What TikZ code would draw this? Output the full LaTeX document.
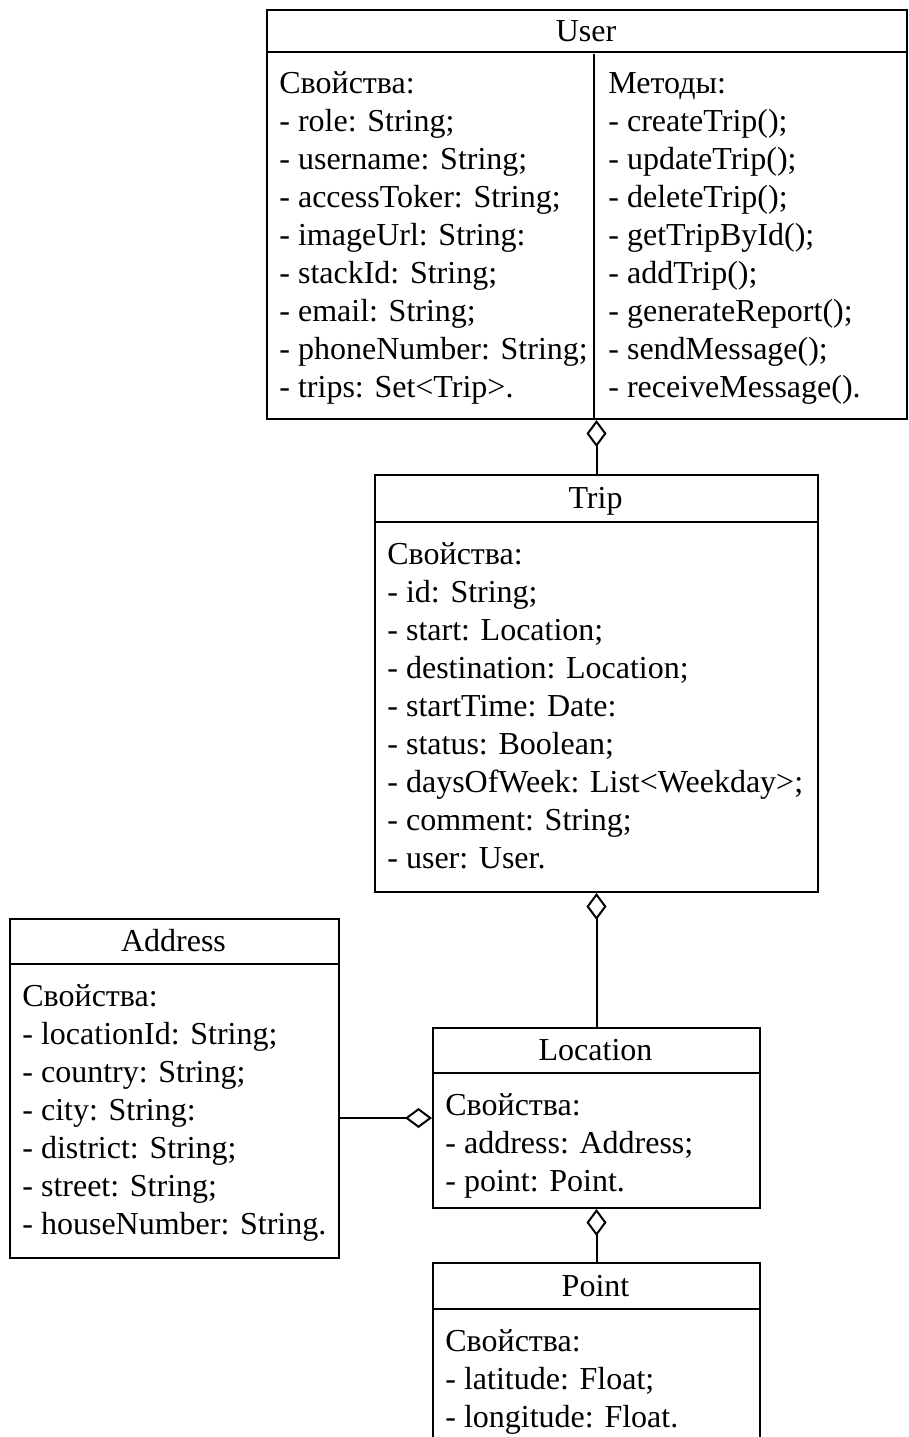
\documentclass[tikz,border=0pt]{standalone}
\usepackage{fontspec}
\setmainfont{Liberation Serif}
\usetikzlibrary{arrows.meta}
\begin{document}
\begin{tikzpicture}[x=0.5pt,y=-0.5pt,
  classbox/.style={draw, line width=1pt, rectangle, inner sep=0pt, anchor=north west},
  titletext/.style={anchor=base, inner sep=0pt, font=\fontsize{16}{19}\selectfont},
  listtext/.style={anchor=north west, inner sep=0pt, align=left, font=\fontsize{16}{19}\selectfont},
  rule/.style={line width=1pt},
  divider/.style={line width=1.2pt},
  agg/.style={line width=1pt, -{Diamond[open, length=13.5pt, width=10pt, line width=1pt]}}
]
\useasboundingbox (0,0) rectangle (909,1437);
\clip (0,0) rectangle (909,1437);

% class boxes
\node[classbox, minimum width=320pt, minimum height=204.5pt] (user) at (266,9) {};
\node[classbox, minimum width=221.5pt, minimum height=208.5pt] (trip) at (374,474) {};
\node[classbox, minimum width=164.5pt, minimum height=169.5pt] (address) at (9,918) {};
\node[classbox, minimum width=163.5pt, minimum height=90pt] (location) at (432,1027) {};
\node[classbox, minimum width=163.5pt, minimum height=99pt] (point) at (432,1262) {};

% title separators
\draw[rule] (user.north west) ++(0,43) -- ++(640,0);
\draw[rule] (trip.north west) ++(0,48) -- ++(443,0);
\draw[rule] (address.north west) ++(0,46) -- ++(329,0);
\draw[rule] (location.north west) ++(0,46) -- ++(327,0);
\draw[rule] (point.north west) ++(0,47) -- ++(327,0);

% properties / methods split of User
\draw[divider] (user.south west) ++(328,0) -- ++(0,-366);

% titles
\node[titletext] (usertitle) at (586,41) {User};
\node[titletext] (triptitle) at (595.5,508.5) {Trip};
\node[titletext] (addresstitle) at (173.5,951.5) {Address};
\node[titletext] (locationtitle) at (595.5,1060.5) {Location};
\node[titletext] (pointtitle) at (595.5,1296) {Point};

% members
\node[listtext] (userprops) at (279,66.4) {\strut Свойства:\\
- role: String;\\
- username: String;\\
- accessToker: String;\\
- imageUrl: String:\\
- stackId: String;\\
- email: String;\\
- phoneNumber: String;\\
- trips: Set<Trip>.};
\node[listtext] (usermethods) at (608,66.4) {\strut Методы:\\
- createTrip();\\
- updateTrip();\\
- deleteTrip();\\
- getTripById();\\
- addTrip();\\
- generateReport();\\
- sendMessage();\\
- receiveMessage().};
\node[listtext] (tripprops) at (387,537.4) {\strut Свойства:\\
- id: String;\\
- start: Location;\\
- destination: Location;\\
- startTime: Date:\\
- status: Boolean;\\
- daysOfWeek: List<Weekday>;\\
- comment: String;\\
- user: User.};
\node[listtext] (addressprops) at (22,979.4) {\strut Свойства:\\
- locationId: String;\\
- country: String;\\
- city: String:\\
- district: String;\\
- street: String;\\
- houseNumber: String.};
\node[listtext] (locationprops) at (445,1088.4) {\strut Свойства:\\
- address: Address;\\
- point: Point.};
\node[listtext] (pointprops) at (445,1324.4) {\strut Свойства:\\
- latitude: Float;\\
- longitude: Float.};

% aggregations
\draw[agg] (trip.north) -- (trip.north |- user.south);
\draw[agg] (location.north) -- (location.north |- trip.south);
\draw[agg] (address.east |- location.west) -- (location.west);
\draw[agg] (point.north) -- (location.south);
\end{tikzpicture}
\end{document}
